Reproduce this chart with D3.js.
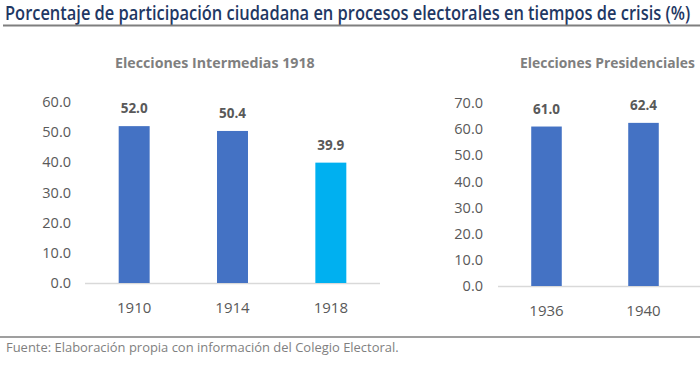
<!DOCTYPE html>
<html><head><meta charset="utf-8">
<script src="https://cdn.jsdelivr.net/npm/d3@7"></script>
<style>body{margin:0;background:#fff}svg{display:block}text{font-family:"Open Sans",sans-serif}</style>
</head><body>
<svg id="c" width="700" height="382"></svg>
<script>
const titleText = "Porcentaje de participación ciudadana en procesos electorales en tiempos de crisis (%)";
const sourceText = "Fuente: Elaboración propia con información del Colegio Electoral.";
const leftTitle = "Elecciones Intermedias 1918";
const leftYears = ["1910", "1914", "1918"];
const leftValues = [52.0, 50.4, 39.9];
const leftTicks = [0, 10, 20, 30, 40, 50, 60];
const rightTitle = "Elecciones Presidenciales";
const rightYears = ["1936", "1940"];
const rightValues = [61.0, 62.4];
const rightTicks = [0, 10, 20, 30, 40, 50, 60, 70];

const svg = d3.select("#c");
const fmt = d3.format(".1f");

// draws text squeezed horizontally to a target width via a transform
function squeezedText(parent, x, y, w, anchor, attrs, str) {
  const g = parent.append("g");
  const t = g.append("text").attr("x", 0).attr("y", 0).text(str);
  Object.entries(attrs).forEach(([k, v]) => t.attr(k, v));
  const nat = t.node().getComputedTextLength();
  const sx = w / nat;
  const left = anchor === "middle" ? x - w / 2 : x;
  g.attr("transform", `translate(${left},${y}) scale(${sx},1)`);
  return t;
}

// title
squeezedText(svg, 5, 20, 686, "start",
  { "font-size": 19.5, "font-weight": 600, fill: "#1f3864" }, titleText);
svg.append("line").attr("x1", 3).attr("x2", 700).attr("y1", 25.5).attr("y2", 25.5)
  .attr("stroke", "#7f7f7f").attr("stroke-width", 2);

function panel(cfg) {
  const g = svg.append("g");
  const y = d3.scaleLinear().domain(cfg.domain).range(cfg.yr);
  const x = d3.scaleBand().domain(cfg.years).range(cfg.xr).paddingInner(0.685).paddingOuter(0.3425);
  // subtitle
  squeezedText(g, cfg.tx, 68, cfg.tw, cfg.anchor,
    { "font-size": 15, "font-weight": 700, fill: "#7f7f7f" }, cfg.title);
  // y axis
  const ya = g.append("g").attr("transform", `translate(${cfg.labelX},0)`)
    .call(d3.axisLeft(y).tickValues(cfg.ticks).tickFormat(fmt).tickSize(0).tickPadding(0));
  ya.select(".domain").remove();
  ya.selectAll("text").attr("font-size", 14.5).attr("fill", "#595959").attr("font-family", "Open Sans");
  // baseline
  g.append("line").attr("x1", cfg.xr[0]).attr("x2", cfg.lineEnd)
    .attr("y1", y(0) + 0.5).attr("y2", y(0) + 0.5).attr("stroke", "#d9d9d9").attr("stroke-width", 1.5);
  // bars
  g.selectAll("rect").data(cfg.values).join("rect")
    .attr("x", (d, i) => x(cfg.years[i])).attr("width", x.bandwidth())
    .attr("y", d => y(d)).attr("height", d => y(0) - y(d))
    .attr("fill", (d, i) => cfg.colors[i]);
  // value labels
  g.selectAll("text.v").data(cfg.values).join("text").attr("class", "v")
    .attr("x", (d, i) => x(cfg.years[i]) + x.bandwidth() / 2).attr("y", d => y(d) - 13)
    .attr("text-anchor", "middle").attr("font-size", 13.5).attr("font-weight", 700)
    .attr("fill", "#595959").text(d => fmt(d));
  // x labels
  g.selectAll("text.yr").data(cfg.years).join("text").attr("class", "yr")
    .attr("x", d => x(d) + x.bandwidth() / 2).attr("y", y(0) + 30)
    .attr("text-anchor", "middle").attr("font-size", 15).attr("fill", "#595959").text(d => d);
}

panel({ title: leftTitle, tx: 215, tw: 200, anchor: "middle", years: leftYears, values: leftValues,
  ticks: leftTicks, domain: [0, 60], yr: [283, 102], xr: [85, 380], lineEnd: 380, labelX: 71,
  colors: ["#4472c4", "#4472c4", "#00b0f0"] });
panel({ title: rightTitle, tx: 520, tw: 175, anchor: "start", years: rightYears, values: rightValues,
  ticks: rightTicks, domain: [0, 70], yr: [286, 103], xr: [498, 692], lineEnd: 700, labelX: 483,
  colors: ["#4472c4", "#4472c4"] });

// bottom rule + source
svg.append("line").attr("x1", 0).attr("x2", 700).attr("y1", 337).attr("y2", 337)
  .attr("stroke", "#7f7f7f").attr("stroke-width", 1.5);
squeezedText(svg, 6, 352, 393, "start", { "font-size": 13, fill: "#7f7f7f" }, sourceText);
</script>
</body></html>
